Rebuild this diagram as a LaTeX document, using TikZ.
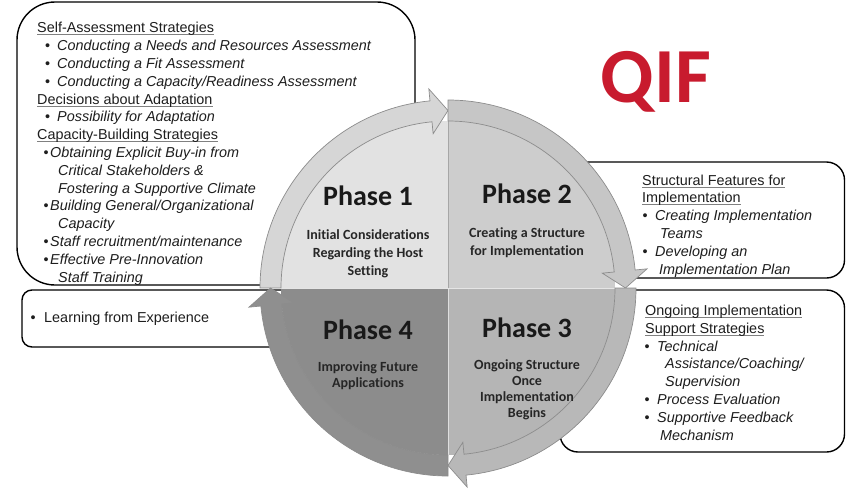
\documentclass[tikz,border=0pt]{standalone}
\usepackage{fontspec}
\setmainfont{Liberation Sans}
\newfontfamily\phasefont[Ligatures=NoCommon]{Carlito}
\definecolor{qifred}{RGB}{200,27,46}
\definecolor{textgray}{RGB}{30,30,30}
\definecolor{quadA}{RGB}{226,226,226}
\definecolor{quadB}{RGB}{205,205,205}
\definecolor{quadC}{RGB}{181,181,181}
\definecolor{quadD}{RGB}{140,140,140}
\definecolor{ringA}{RGB}{214,214,214}
\definecolor{ringB}{RGB}{198,198,198}
\definecolor{ringC}{RGB}{184,184,184}
\definecolor{ringD}{RGB}{143,143,143}
\newcommand{\underhead}[1]{\setbox0\hbox{#1}\rlap{\color{gray}\rule[-2.4pt]{\wd0}{0.9pt}}\box0}
\tikzstyle{info box}=[draw=black, fill=white, line width=1.4pt]
\tikzstyle{list text}=[anchor=base west, align=left, inner sep=0pt, text=textgray, font=\fontsize{14.4}{17.8}\selectfont]
\tikzstyle{phase title}=[anchor=base, inner sep=0pt, text=black!90, font=\phasefont\bfseries\fontsize{28}{30}\selectfont]
\tikzstyle{phase text}=[anchor=base, align=center, inner sep=0pt, text=black!85, font=\phasefont\bfseries\fontsize{14}{17.7}\selectfont]
\tikzstyle{ring line}=[draw=black!45, line width=0.7pt]

\begin{document}
\begin{tikzpicture}[x=1pt, y=1pt]
	\useasboundingbox (0,0) rectangle (846,-490);
	% boxes behind the wheel
	\draw [style=info box, rounded corners=38pt] (17,-2) rectangle (415,-285);
	\draw [style=info box, rounded corners=10pt] (22,-290) rectangle (340,-347);
	\draw [style=info box, rounded corners=18pt] (560,-162) rectangle (844.5,-278);
	\draw [style=info box, rounded corners=18pt] (560,-290) rectangle (844.5,-452);

	% lists (anchored at the last line)
	\node [style=list text] (assess) at (37,-282) {%
		\underhead{Self-Assessment Strategies}\\
		\hspace*{8pt}\textbullet\hspace*{7pt}\textit{Conducting a Needs and Resources Assessment}\\
		\hspace*{8pt}\textbullet\hspace*{7pt}\textit{Conducting a Fit Assessment}\\
		\hspace*{8pt}\textbullet\hspace*{7pt}\textit{Conducting a Capacity/Readiness Assessment}\\
		\underhead{Decisions about Adaptation}\\
		\hspace*{8pt}\textbullet\hspace*{7pt}\textit{Possibility for Adaptation}\\
		\underhead{Capacity-Building Strategies}\\
		\hspace*{6.5pt}\textbullet\hspace*{1.5pt}\textit{Obtaining Explicit Buy-in from}\\
		\hspace*{21pt}\textit{Critical Stakeholders \&}\\
		\hspace*{21pt}\textit{Fostering a Supportive Climate}\\
		\hspace*{6.5pt}\textbullet\hspace*{1.5pt}\textit{Building General/Organizational}\\
		\hspace*{21pt}\textit{Capacity}\\
		\hspace*{6.5pt}\textbullet\hspace*{1.5pt}\textit{Staff recruitment/maintenance}\\
		\hspace*{6.5pt}\textbullet\hspace*{1.5pt}\textit{Effective Pre-Innovation}\\
		\hspace*{21pt}\textit{Staff Training}};
	\node [style=list text] (learn) at (30.5,-322) {\textbullet\hspace*{8.5pt}Learning from Experience};
	\node [style=list text] (structure) at (642,-274) {%
		\underhead{Structural Features for}\\
		\underhead{Implementation}\\
		\hspace*{0.5pt}\textbullet\hspace*{7.5pt}\textit{Creating Implementation}\\
		\hspace*{18pt}\textit{Teams}\\
		\hspace*{0.5pt}\textbullet\hspace*{7.5pt}\textit{Developing an}\\
		\hspace*{17pt}\textit{Implementation Plan}};
	\node [style=list text] (support) at (644,-440) {%
		\hspace*{1pt}\underhead{Ongoing Implementation}\\
		\hspace*{1pt}\underhead{Support Strategies}\\
		\hspace*{0.5pt}\textbullet\hspace*{7.5pt}\textit{Technical}\\
		\hspace*{21pt}\textit{Assistance/Coaching/}\\
		\hspace*{21pt}\textit{Supervision}\\
		\hspace*{0.5pt}\textbullet\hspace*{7.5pt}\textit{Process Evaluation}\\
		\hspace*{0.5pt}\textbullet\hspace*{7.5pt}\textit{Supportive Feedback}\\
		\hspace*{16pt}\textit{Mechanism}};

	\node [anchor=base, inner sep=0pt, text=qifred, font=\phasefont\bfseries\fontsize{78}{80}\selectfont] (qif) at (656,-102) {QIF};

	% the wheel
	\begin{scope}[shift={(448,-288)}]
		\coordinate (hub) at (0,0);
		\foreach \s/\col in {180/quadA, 90/quadB, 0/quadC, -90/quadD}
			\fill [\col] (hub) -- (\s:167) arc [start angle=\s, end angle=\s-90, radius=167] -- cycle;
		\draw [black!35, line width=0.8pt] (hub) -- (0,167);
		\draw [white!75!gray, line width=0.8pt] (hub) -- (0,-167);
		\draw [white!80!gray, line width=0.8pt] (-167,0) -- (167,0);
		\foreach \s/\col in {180/ringA, 90/ringB, 0/ringC, -90/ringD} {
			\pgfmathsetmacro{\tipang}{\s-90}
			\pgfmathsetmacro{\headang}{\tipang+5.5}
			\filldraw [style=ring line, fill=\col] (\s:167) arc [start angle=\s, end angle=\headang, radius=167]
				-- (\headang:155) -- (\tipang:177.5) -- (\headang:200) -- (\headang:188)
				arc [start angle=\headang, end angle=\s, radius=188] -- cycle;
		}
	\end{scope}

	\node [style=phase title] (phase1) at (368,-205) {Phase 1};
	\node [style=phase text] (phase1 text) at (368,-275) {Initial Considerations\\Regarding the Host\\Setting};
	\node [style=phase title] (phase2) at (527,-203) {Phase 2};
	\node [style=phase text] (phase2 text) at (527,-255.5) {Creating a Structure\\for Implementation};
	\node [style=phase title] (phase3) at (527,-337) {Phase 3};
	\node [style=phase text, font=\phasefont\bfseries\fontsize{14}{16}\selectfont] (phase3 text) at (527,-417.5) {Ongoing Structure\\Once\\Implementation\\Begins};
	\node [style=phase title] (phase4) at (368,-339) {Phase 4};
	\node [style=phase text, font=\phasefont\bfseries\fontsize{14}{16}\selectfont] (phase4 text) at (368,-387.5) {Improving Future\\Applications};
\end{tikzpicture}
\end{document}
